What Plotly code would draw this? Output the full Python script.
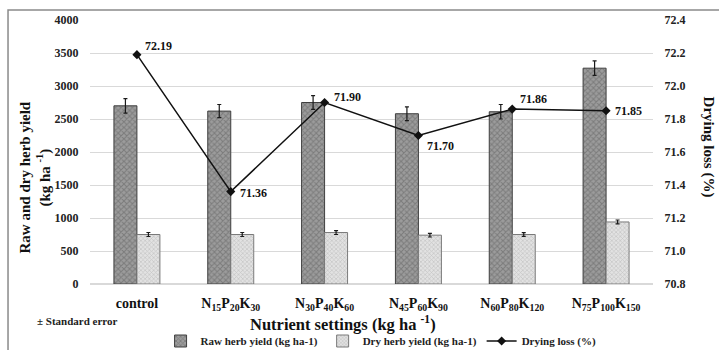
import plotly.graph_objects as go

# Category labels (N/P/K application rates, kg ha-1)
categories = ["control", "N15P20K30", "N30P40K60", "N45P60K90", "N60P80K120", "N75P100K150"]
tick_labels = [
    "control",
    "N<sub>15</sub>P<sub>20</sub>K<sub>30</sub>",
    "N<sub>30</sub>P<sub>40</sub>K<sub>60</sub>",
    "N<sub>45</sub>P<sub>60</sub>K<sub>90</sub>",
    "N<sub>60</sub>P<sub>80</sub>K<sub>120</sub>",
    "N<sub>75</sub>P<sub>100</sub>K<sub>150</sub>",
]

raw_yield = [2700, 2620, 2750, 2580, 2610, 3270]
raw_se = [110, 100, 105, 105, 110, 110]
dry_yield = [750, 750, 780, 740, 750, 940]
dry_se = [30, 30, 30, 28, 28, 30]
drying_loss = [72.19, 71.36, 71.90, 71.70, 71.86, 71.85]

# label offsets (px) for the drying-loss values
label_dx = [6, 7, 7, 7, 6, 7]
label_dy = [9, -1, 6, -10, 10, 0]

FONT = "Liberation Serif, Times New Roman, serif"

fig = go.Figure()

fig.add_trace(go.Bar(
    x=categories, y=raw_yield, name="Raw herb yield (kg ha-1)",
    marker=dict(color="#8c8c8c",
                line=dict(color="#3f3f3f", width=1),
                pattern=dict(shape="x", fgcolor="#5c5c5c", bgcolor="#9c9c9c",
                             size=4, solidity=0.45)),
    error_y=dict(type="data", array=raw_se, color="#1a1a1a", thickness=1.2, width=2),
    offsetgroup="raw",
))
fig.add_trace(go.Bar(
    x=categories, y=dry_yield, name="Dry herb yield (kg ha-1)",
    marker=dict(color="#d4d4d4",
                line=dict(color="#7a7a7a", width=1),
                pattern=dict(shape="x", fgcolor="#a6a6a6", bgcolor="#e2e2e2",
                             size=3, solidity=0.4)),
    error_y=dict(type="data", array=dry_se, color="#1a1a1a", thickness=1.2, width=2),
    offsetgroup="dry",
))
fig.add_trace(go.Scatter(
    x=categories, y=drying_loss, name="Drying loss (%)", yaxis="y2",
    mode="lines+markers",
    line=dict(color="#111111", width=1.5),
    marker=dict(symbol="diamond", size=7, color="#111111"),
))

for c, v, dx, dy in zip(categories, drying_loss, label_dx, label_dy):
    fig.add_annotation(x=c, y=v, yref="y2", text=f"{v:.2f}",
                       showarrow=False, xanchor="left", yanchor="middle",
                       xshift=dx, yshift=dy,
                       font=dict(family=FONT, size=12, color="#111111", weight="bold"))

# axis titles and note
fig.add_annotation(xref="paper", yref="paper", x=-0.097, y=0.405,
                   text="Raw and dry herb yield<br>(kg ha <sup>-1</sup>)",
                   textangle=-90, showarrow=False, xanchor="center", yanchor="middle",
                   font=dict(family=FONT, size=15, color="#111111", weight="bold"))
fig.add_annotation(xref="paper", yref="paper", x=1.098, y=0.52,
                   text="Drying loss (%)", textangle=90, showarrow=False,
                   xanchor="center", yanchor="middle",
                   font=dict(family=FONT, size=15, color="#111111", weight="bold"))
fig.add_annotation(xref="paper", yref="paper", x=0.45, y=-0.148,
                   text="Nutrient settings (kg ha <sup>-1</sup>)",
                   showarrow=False, xanchor="center", yanchor="middle",
                   font=dict(family=FONT, size=16.5, color="#111111", weight="bold"))
fig.add_annotation(xref="paper", yref="paper", x=-0.098, y=-0.142,
                   text="± Standard error", showarrow=False,
                   xanchor="left", yanchor="middle",
                   font=dict(family=FONT, size=11, color="#222222", weight="bold"))

# outer frame
fig.add_shape(type="rect", xref="paper", yref="paper",
              x0=-0.1456, x1=1.14, y0=-0.3, y1=1.038,
              line=dict(color="#8a8a8a", width=1.5), fillcolor="rgba(0,0,0,0)",
              layer="below")

fig.update_layout(
    width=719, height=350,
    margin=dict(l=90, r=66, t=20, b=66, autoexpand=False),
    paper_bgcolor="white", plot_bgcolor="white",
    barmode="group", bargap=0.51, bargroupgap=0,
    showlegend=True,
    legend=dict(orientation="h", x=0.517, xref="paper", y=-0.161, yref="paper",
                xanchor="center", yanchor="top",
                font=dict(family=FONT, size=11, color="#222222", weight="bold"),
                itemwidth=30, tracegroupgap=0, bgcolor="rgba(0,0,0,0)"),
    font=dict(family=FONT, color="#222222"),
    xaxis=dict(tickmode="array", tickvals=categories, ticktext=tick_labels,
               tickfont=dict(family=FONT, size=14, color="#111111", weight="bold"),
               showline=False, showgrid=False, ticks="outside", ticklen=6,
               tickcolor="rgba(0,0,0,0)", automargin=False),
    yaxis=dict(range=[0, 4000], dtick=500, showgrid=True, gridcolor="#d9d9d9",
               gridwidth=1, zeroline=True, zerolinecolor="#d9d9d9",
               tickfont=dict(family=FONT, size=12, color="#222222", weight="bold"),
               ticks="outside", ticklen=8, tickcolor="rgba(0,0,0,0)", automargin=False),
    yaxis2=dict(range=[70.8, 72.4], dtick=0.2, tickformat=".1f", overlaying="y",
                side="right", showgrid=False, zeroline=False,
                tickfont=dict(family=FONT, size=12, color="#222222", weight="bold"),
                ticks="outside", ticklen=8, tickcolor="rgba(0,0,0,0)", automargin=False),
)

fig.write_html("out.html")
